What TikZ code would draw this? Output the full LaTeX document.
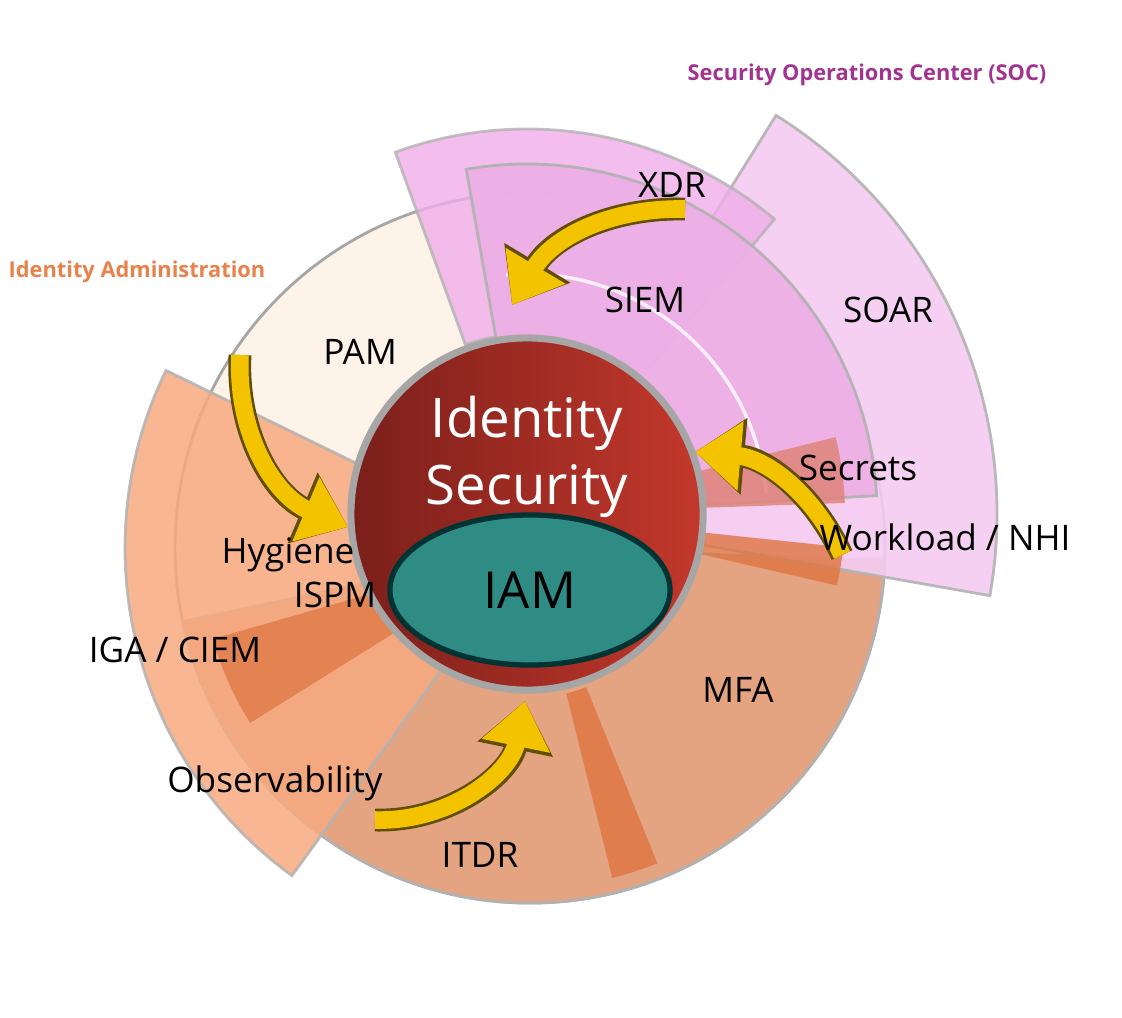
\documentclass[tikz,border=0pt]{standalone}
\usepackage{fontspec}
\setmainfont{Open Sans}
\usetikzlibrary{calc,arrows.meta,shapes.geometric}
\definecolor{beige}{HTML}{FDF3E8}
\definecolor{rust}{HTML}{E3A07C}
\definecolor{peach}{HTML}{F7A97F}
\definecolor{darkor}{HTML}{DE7440}
\definecolor{socpink}{HTML}{F5CBF2}
\definecolor{xdrpink}{HTML}{F0AEEA}
\definecolor{siem}{HTML}{EDB0E6}
\definecolor{secred}{HTML}{E0847A}
\definecolor{socpurple}{HTML}{A2338F}
\definecolor{admorange}{HTML}{E8814A}
\definecolor{gold}{HTML}{F3C300}
\definecolor{coredark}{HTML}{7A1F1A}
\definecolor{corelight}{HTML}{C4382C}
\definecolor{iamteal}{HTML}{2E8C84}
\newcommand\band[6]{% style, centre, start, end, inner, outer
  \path[#1] (#2) ++(#3:#6) arc[start angle=#3,end angle=#4,radius=#6]
    -- ($(#2)+(#4:#5)$) arc[start angle=#4,end angle=#3,radius=#5] -- cycle;}
\tikzset{
  seg/.style={fill=#1,draw=gray!60,line width=0.8pt},
  lbl/.style={font=\fontsize{10}{12}\selectfont,inner sep=0pt},
  title/.style={font=\bfseries\fontsize{6.2}{8}\selectfont,inner sep=0pt},
  feed/.style={line width=5pt,draw=gold,-{Triangle[length=13pt,width=19pt]},
    preaction={draw=black!60!gold,line width=6.5pt,-{Triangle[length=14pt,width=21pt]}}}
}
\begin{document}
\begin{tikzpicture}[x=0.01cm,y=0.01cm]
  \useasboundingbox (0,0) rectangle (1122,1017);
  \coordinate (C) at (527,503);
  \coordinate (B) at (530,469);
  % outer ring
  \fill[beige,draw=gray!70,line width=0.8pt] (B) circle[radius=355];
  \band{seg=rust,opacity=.95}{B}{192}{358}{1}{355}
  \band{seg=peach,opacity=.85}{B}{154}{234}{1}{405}
  \band{seg=darkor,opacity=.7,draw=none}{B}{196}{212}{60}{330}
  \band{seg=darkor,opacity=.8,draw=none}{B}{-68}{-76}{150}{340}
  % SOC side
  \band{seg=socpink,opacity=.9}{C}{-10}{58}{150}{470}
  \band{seg=xdrpink,opacity=.8}{C}{50}{110}{180}{385}
  \band{seg=siem,opacity=.95}{C}{3}{100}{1}{350}
  \draw[white!80!siem,line width=1pt] (C) ++(5:240) arc[start angle=5,end angle=95,radius=240];
  \band{seg=secred,opacity=.85,draw=none}{C}{2}{14}{150}{318}
  \band{seg=darkor,opacity=.8,draw=none}{C}{-6}{-13}{150}{318}
  % core
  \node[circle,minimum size=3.52cm,inner sep=0pt,draw=gray!70,line width=2pt,
    left color=coredark,right color=corelight] (core) at (C) {};
  \node[ellipse,minimum width=2.8cm,minimum height=1.5cm,inner sep=0pt,
    fill=iamteal,draw=teal!40!black,line width=1.5pt] (iam) at (530,427) {};
  \node[lbl,text=white,align=center,font=\fontsize{15.5}{19}\selectfont] (idsec) at (527,560) {Identity\\Security};
  \node[lbl,font=\fontsize{14.5}{17}\selectfont] (iamlbl) at (iam) {IAM};
  % arrows
  \coordinate (xa) at (685,808); \coordinate (xb) at (512,712);
  \coordinate (pa) at (240,662); \coordinate (pb) at (348,490);
  \coordinate (ta) at (375,197); \coordinate (tb) at (525,316);
  \coordinate (wa) at (842,462); \coordinate (wb) at (695,565);
  \draw[feed] (xa) to[bend right=30] (xb);
  \draw[feed] (pa) to[bend right=35] (pb);
  \draw[feed] (ta) to[bend right=40] (tb);
  \draw[feed] (wa) to[bend right=30] (wb);
  % labels
  \node[lbl] (xdr) at (672,832) {XDR};
  \node[lbl] (siemlbl) at (645,717) {SIEM};
  \node[lbl] (soar) at (888,707) {SOAR};
  \node[lbl] (secrets) at (858,549) {Secrets};
  \node[lbl] (nhi) at (945,480) {Workload / NHI};
  \node[lbl] (pam) at (360,665) {PAM};
  \node[lbl] (hyg) at (288,462) {Hygiene};
  \node[lbl] (ispm) at (335,422) {ISPM};
  \node[lbl] (iga) at (175,367) {IGA / CIEM};
  \node[lbl] (mfa) at (738,327) {MFA};
  \node[lbl] (obs) at (275,234) {Observability};
  \node[lbl] (itdr) at (480,162) {ITDR};
  \node[title,text=socpurple] (soc) at (867,942) {Security Operations Center (SOC)};
  \node[title,text=admorange] (adm) at (137,745) {Identity Administration};
\end{tikzpicture}
\end{document}
